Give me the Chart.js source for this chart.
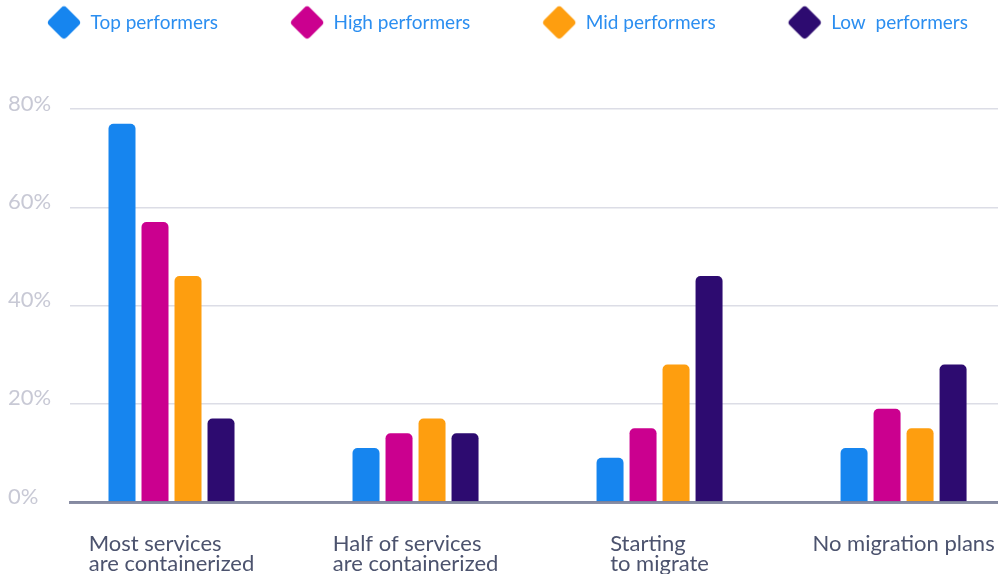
<!DOCTYPE html>
<html>
<head>
<meta charset="utf-8">
<script src="https://cdn.jsdelivr.net/npm/chart.js@4"></script>
<style>
  html, body { margin: 0; padding: 0; background: #fff; }
  #wrap { width: 998px; height: 577px; }
</style>
</head>
<body>
<div id="wrap"><canvas id="chart"></canvas></div>
<script>
// data
const categories = [
  ['Most services', 'are containerized'],
  ['Half of services', 'are containerized'],
  ['Starting', 'to migrate'],
  ['No migration plans']
];
const seriesNames = ['Top performers', 'High performers', 'Mid performers', 'Low  performers'];
const topPerformers = [77, 11, 9, 11];
const highPerformers = [57, 14, 15, 19];
const midPerformers = [46, 17, 28, 15];
const lowPerformers = [17, 14, 46, 28];
const yTicks = [0, 20, 40, 60, 80];

const colors = ['#1685ef', '#cb008f', '#fe9e0f', '#2d0b70'];
const labelFont = { family: 'Lato', size: 22, lineHeight: 0.9 };
const xMin = -0.416, xMax = 3.387;
const legendGap = 72;

// rounded diamond markers for the legend
function diamond(color) {
  const c = document.createElement('canvas');
  c.width = 36; c.height = 36;
  const g = c.getContext('2d');
  g.translate(18, 18);
  g.rotate(Math.PI / 4);
  g.fillStyle = color;
  g.beginPath();
  g.roundRect(-12.5, -12.5, 25, 25, 4);
  g.fill();
  return c;
}
const markers = colors.map(diamond);

const layoutTweaks = {
  id: 'layoutTweaks',
  // legend keeps a fixed height above the plot
  beforeInit(chart) {
    const legend = chart.legend;
    const fit = legend.fit;
    legend.fit = function () {
      fit.call(this);
      this.height = 109;
    };
  },
  afterLayout(chart) {
    // one legend row starting at the left
    const legend = chart.legend;
    legend.top = 13 - legendGap;
    legend.left = 47 - legendGap;
    legend.right = 5000;
    // category labels: left-aligned blocks centred under each group
    const s = chart.scales.x2;
    const ctx = chart.ctx;
    ctx.save();
    ctx.font = labelFont.size + 'px ' + labelFont.family;
    const ppu = s.width / (xMax - xMin);
    s.ticks.forEach((t, i) => {
      const w = Math.max(...categories[i].map(l => ctx.measureText(l).width));
      t.value = i - w / 2 / ppu;
    });
    ctx.restore();
  }
};

const noSidePadding = s => { s.paddingLeft = 0; s.paddingRight = 0; };

const series = [topPerformers, highPerformers, midPerformers, lowPerformers];
const datasets = series.map((vals, k) => ({
  label: seriesNames[k],
  data: vals.map((v, i) => ({ x: i, y: v })),
  backgroundColor: colors[k],
  borderRadius: 5,
  borderSkipped: 'start',
  categoryPercentage: 0.541,
  barPercentage: 0.818,
  xAxisID: 'x',
  yAxisID: 'y'
}));

new Chart(document.getElementById('chart'), {
  type: 'bar',
  data: { datasets },
  plugins: [layoutTweaks],
  options: {
    responsive: true,
    maintainAspectRatio: false,
    animation: false,
    layout: { padding: { top: 0, left: 8, right: 0, bottom: 3 } },
    plugins: {
      tooltip: { enabled: false },
      legend: {
        position: 'top',
        align: 'start',
        labels: {
          usePointStyle: true,
          pointStyleWidth: 34,
          padding: legendGap,
          color: '#2b8ef0',
          font: { family: 'Lato', size: 19 },
          generateLabels: chart =>
            Chart.defaults.plugins.legend.labels.generateLabels(chart)
              .map((l, i) => ({ ...l, pointStyle: markers[i], lineWidth: 0 }))
        }
      }
    },
    scales: {
      x: {
        type: 'linear',
        bounds: 'data',
        offset: false,
        min: xMin,
        max: xMax,
        grid: { display: false, drawTicks: false },
        border: { color: 'rgba(100,105,135,0.75)', width: 3, z: 1 },
        ticks: { display: false },
        afterBuildTicks: s => { s.ticks = categories.map((c, i) => ({ value: i })); },
        afterFit: s => { s.height = 0; noSidePadding(s); }
      },
      x2: {
        type: 'linear',
        position: 'bottom',
        bounds: 'data',
        offset: false,
        min: xMin,
        max: xMax,
        grid: { display: false, drawTicks: false },
        border: { display: false },
        ticks: {
          autoSkip: false,
          maxRotation: 0,
          align: 'start',
          padding: 32,
          color: '#4c536e',
          font: labelFont,
          callback: (v, i) => categories[i]
        },
        afterBuildTicks: s => { s.ticks = categories.map((c, i) => ({ value: i })); },
        afterFit: s => { s.height = 72; noSidePadding(s); }
      },
      y: {
        min: 0,
        max: 80,
        afterBuildTicks: s => { s.ticks = yTicks.map(v => ({ value: v })); },
        grid: { color: '#dcdde6', lineWidth: 1.5, drawTicks: false },
        border: { display: false },
        ticks: {
          color: '#c8c9d5',
          crossAlign: 'far',
          font: { family: 'Lato', size: 22, lineHeight: 0.5 },
          callback: v => [v + '%', '']
        },
        afterFit: s => { s.width = 62; }
      }
    }
  }
});
</script>
</body>
</html>
